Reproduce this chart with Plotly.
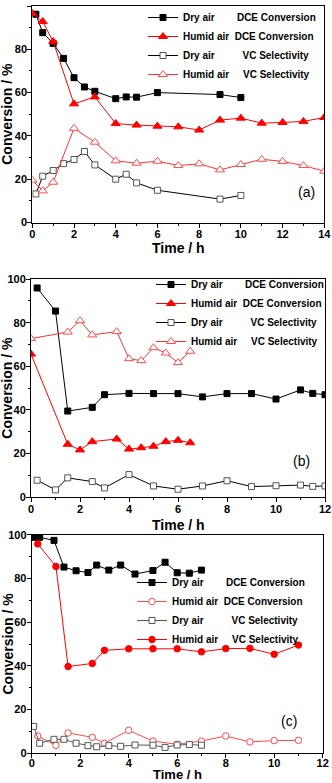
import plotly.graph_objects as go
from plotly.subplots import make_subplots

# panel (a)
A_DRY_X = [0.17, 0.5, 1, 1.5, 2, 2.5, 3, 4, 4.5, 5, 6, 9, 10]
A_DRY_DCE = [96.2, 87.7, 82.7, 75.8, 66.9, 62.6, 60.6, 57.2, 58.0, 57.9, 60.0, 59.1, 57.7]
A_DRY_VC = [13.2, 21.4, 24.0, 27.2, 29.1, 32.8, 26.6, 20.0, 22.3, 18.3, 14.9, 10.8, 12.5]
A_HUM_X = [0, 0.5, 1, 2, 3, 4, 5, 6, 7, 8, 9, 10, 11, 12, 13, 14]
A_HUM_DCE = [96.6, 92.8, 83.6, 54.8, 58.0, 45.7, 45.0, 44.5, 44.2, 42.7, 47.3, 48.2, 45.9, 46.2, 46.7, 48.5]
A_HUM_VC = [19.5, 14.6, 18.6, 43.5, 37.1, 28.5, 27.4, 28.3, 26.3, 27.1, 24.3, 26.8, 29.2, 28.2, 26.3, 23.7]

# panel (b)
B_DRY_X = [0.25, 1, 1.5, 2.5, 3, 4, 5, 6, 7, 8, 9, 10, 11, 11.5, 12]
B_DRY_DCE = [95.9, 85.3, 39.5, 41.2, 47.0, 47.6, 47.5, 47.5, 46.0, 47.5, 47.5, 45.0, 49.2, 47.6, 47.0]
B_DRY_VC = [7.8, 3.4, 8.9, 7.2, 4.3, 10.4, 5.2, 3.7, 5.2, 7.6, 4.9, 5.3, 5.6, 5.0, 5.2]
B_HUM_X = [0, 1.5, 2, 2.5, 3.5, 4, 4.5, 5, 5.5, 6, 6.5]
B_HUM_DCE = [65.6, 24.3, 21.7, 25.5, 26.7, 22.1, 22.7, 23.4, 25.5, 26.1, 25.0]
B_HUM_VC = [72.7, 75.7, 80.9, 74.4, 75.9, 63.5, 62.6, 68.5, 66.1, 61.7, 66.9]

# panel (c)
C_DRY_X = [0.08, 0.33, 0.92, 1.33, 1.83, 2.32, 2.68, 3.18, 3.67, 4.26, 5.0, 5.5, 6.0, 6.5, 7.0]
C_DRY_DCE = [98.8, 98.8, 97.4, 85.2, 83.5, 82.7, 86.1, 83.8, 86.1, 82.0, 83.6, 87.4, 82.6, 82.4, 83.8]
C_DRY_VC = [12.3, 4.6, 6.4, 6.4, 4.6, 3.5, 3.0, 3.5, 3.2, 3.8, 3.7, 2.7, 3.8, 4.0, 3.7]
C_HUM_X = [0.25, 1, 1.5, 2.5, 3, 4, 5, 6, 7, 8, 9, 10, 11]
C_HUM_OPEN = [7.9, 3.6, 9.3, 7.3, 4.6, 10.5, 5.6, 4.1, 5.6, 7.9, 5.2, 5.8, 5.9]
C_HUM_FILLED = [95.8, 85.5, 39.7, 41.1, 47.1, 47.8, 47.8, 47.8, 46.4, 47.9, 48.0, 45.3, 49.5]

PANEL_LABELS = ["(a)", "(b)", "(c)"]
X_MAX = [14, 12, 12]

SP = "&nbsp;"
NAME_DRY_DCE = "Dry air" + SP * 8 + "DCE Conversion"
NAME_HUM_DCE = "Humid air" + SP * 2 + "DCE Conversion"
NAME_DRY_VC = "Dry air" + SP * 10 + "VC Selectivity"
NAME_HUM_VC = "Humid air" + SP * 5 + "VC Selectivity"

FONT = "Liberation Sans, Arial, sans-serif"
W, H = 332, 783

# pixel boxes of the three plot areas (left, right, top, bottom)
BOXES = [(32.3, 324.3, 6, 222.5), (31, 325, 279, 497.3), (31.7, 322.7, 534.7, 753.3)]


def style(symbol, color, fill, size):
    return dict(symbol=symbol, size=size, color=fill, line=dict(color=color, width=1))


fig = make_subplots(rows=3, cols=1)

black_sq = style("square", "black", "black", 6)
open_sq = style("square", "#555555", "white", 6)
red_tri = style("triangle-up", "#ff0000", "#ff0000", 8)
open_tri = style("triangle-up", "#ff4a4a", "white", 8)

panels = [
    [
        (A_DRY_X, A_DRY_DCE, NAME_DRY_DCE, "black", black_sq),
        (A_HUM_X, A_HUM_DCE, NAME_HUM_DCE, "#ff0000", red_tri),
        (A_DRY_X, A_DRY_VC, NAME_DRY_VC, "black", open_sq),
        (A_HUM_X, A_HUM_VC, NAME_HUM_VC, "#ff3030", open_tri),
    ],
    [
        (B_DRY_X, B_DRY_DCE, NAME_DRY_DCE, "black", black_sq),
        (B_HUM_X, B_HUM_DCE, NAME_HUM_DCE, "#ff0000", red_tri),
        (B_DRY_X, B_DRY_VC, NAME_DRY_VC, "black", open_sq),
        (B_HUM_X, B_HUM_VC, NAME_HUM_VC, "#ff3030", open_tri),
    ],
    [
        (C_DRY_X, C_DRY_DCE, NAME_DRY_DCE, "black", black_sq),
        (C_HUM_X, C_HUM_OPEN, NAME_HUM_DCE, "#ff4a4a", style("circle", "#ff4a4a", "white", 6.5)),
        (C_DRY_X, C_DRY_VC, NAME_DRY_VC, "#555555", open_sq),
        (C_HUM_X, C_HUM_FILLED, NAME_HUM_VC, "#ff0000", style("circle", "#ff0000", "#ff0000", 6.5)),
    ],
]

legend_ids = ["legend", "legend2", "legend3"]
for row, traces in enumerate(panels, start=1):
    for x, y, name, color, marker in traces:
        fig.add_trace(
            go.Scatter(
                x=x,
                y=y,
                name=name,
                mode="lines+markers",
                line=dict(color=color, width=1),
                marker=marker,
                legend=legend_ids[row - 1],
            ),
            row=row,
            col=1,
        )

axis_common = dict(
    showline=True,
    linecolor="black",
    linewidth=1,
    mirror=True,
    showgrid=False,
    zeroline=False,
    ticks="outside",
    ticklen=4,
    tickcolor="black",
    ticklabelstandoff=-2,
    tickfont=dict(family=FONT, size=11, color="black", weight="bold"),
    automargin=False,
)

annotations = []
legend_pos = [(143, 3), (151, 270), (132, 568)]
label_pos = [(0.94, 0.142), (0.92, 0.168), (0.885, 0.149)]
# vertical placement of the "Time / h" titles: (paper y, anchor, font size)
x_titles = [(1 - 248.5 / H, "middle", 14), (1 - 524.5 / H, "middle", 14), (0, "bottom", 13)]
x_standoff = [-3, -3, -5]
for i, (l, r, t, b) in enumerate(BOXES):
    n = "" if i == 0 else str(i + 1)
    fig.update_layout(
        **{
            f"xaxis{n}": dict(
                axis_common,
                domain=[l / W, r / W],
                range=[0, X_MAX[i]],
                dtick=2,
                ticklabelstandoff=x_standoff[i],
                minor=dict(ticks="outside", ticklen=2, dtick=1, tickcolor="black"),
            ),
            f"yaxis{n}": dict(
                axis_common,
                domain=[1 - b / H, 1 - t / H],
                range=[0, 100],
                dtick=20,
                minor=dict(ticks="outside", ticklen=2, dtick=10, tickcolor="black"),
            ),
        }
    )
    lx, ly = legend_pos[i]
    fig.update_layout(
        **{
            legend_ids[i]: dict(
                x=lx / W,
                y=1 - ly / H,
                xanchor="left",
                yanchor="top",
                bgcolor="rgba(0,0,0,0)",
                font=dict(family=FONT, size=10, color="black", weight="bold"),
                itemwidth=30,
            )
        }
    )
    annotations.append(
        dict(
            text="Conversion / %",
            x=7.5 / W,
            y=1 - (t + b) / 2 / H,
            xref="paper",
            yref="paper",
            xanchor="center",
            yanchor="middle",
            textangle=-90,
            showarrow=False,
            font=dict(family=FONT, size=14, color="black", weight="bold"),
        )
    )
    ty, tanchor, tsize = x_titles[i]
    annotations.append(
        dict(
            text="Time / h",
            x=(l + r) / 2 / W,
            y=ty,
            xref="paper",
            yref="paper",
            xanchor="center",
            yanchor=tanchor,
            borderpad=0,
            showarrow=False,
            font=dict(family=FONT, size=tsize, color="black", weight="bold"),
        )
    )
    px, py = label_pos[i]
    annotations.append(
        dict(
            text=PANEL_LABELS[i],
            x=px,
            y=py,
            xref=f"x{n} domain",
            yref=f"y{n} domain",
            xanchor="center",
            yanchor="middle",
            showarrow=False,
            font=dict(family=FONT, size=14, color="black"),
        )
    )

fig.update_layout(
    width=W,
    height=H,
    margin=dict(l=0, r=0, t=0, b=0),
    paper_bgcolor="white",
    plot_bgcolor="white",
    annotations=annotations,
)

# the page body has a default 8px margin; drop it so the figure fills the window
fig.write_html(
    "out.html",
    config={"displayModeBar": False},
    post_script="document.body.style.margin = '0';",
)
